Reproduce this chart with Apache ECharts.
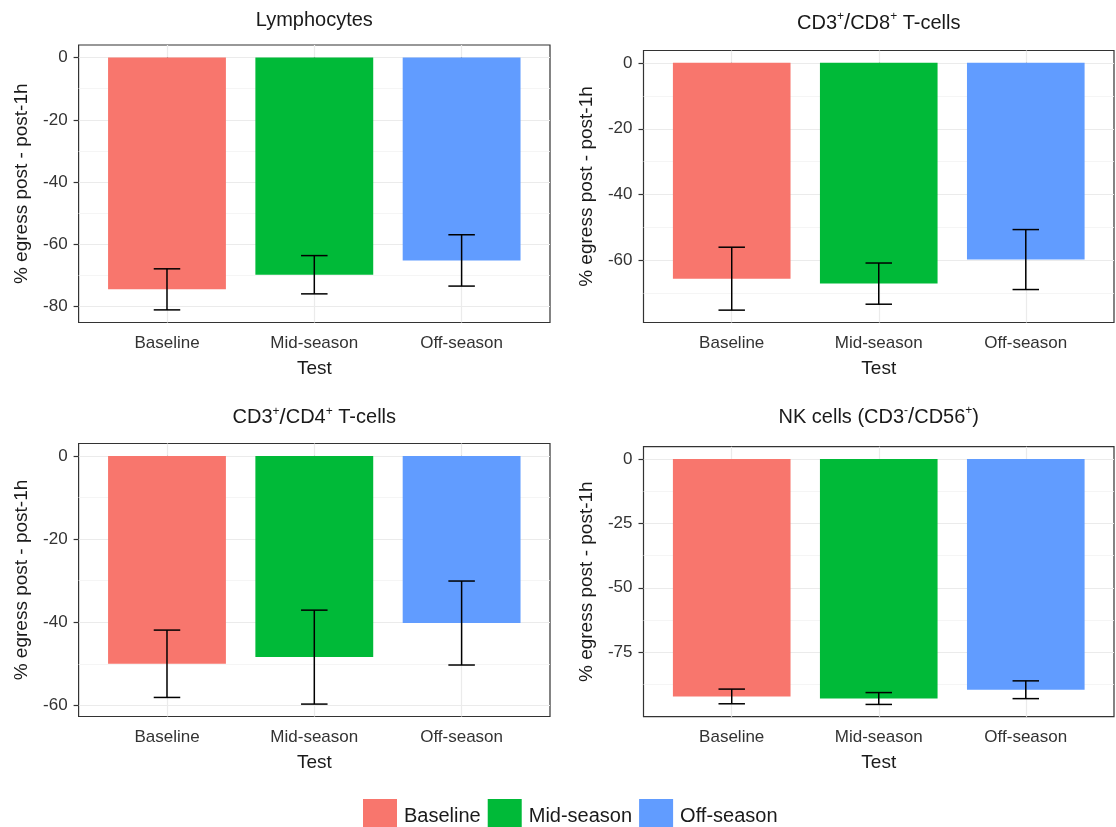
<!DOCTYPE html>
<html>
<head>
<meta charset="utf-8">
<script src="https://cdn.jsdelivr.net/npm/echarts@6/dist/echarts.min.js"></script>
<style>
html,body{margin:0;padding:0;background:#fff;}
#chart{width:1116px;height:827px;}
</style>
</head>
<body>
<div id="chart"></div>
<script>
// ---- data ----
const tests = ['Baseline', 'Mid-season', 'Off-season'];
const panelTitles = [
  'Lymphocytes',
  '{a|CD3}{s|+}{b|/}{a|CD8}{s|+}{a| T-cells}',
  '{a|CD3}{s|+}{b|/}{a|CD4}{s|+}{a| T-cells}',
  '{a|NK cells (CD3}{s|-}{b|/}{a|CD56}{s|+}{a|)}'
];
const lymphMean = [-74.5, -69.8, -65.2];
const lymphSE = [6.6, 6.15, 8.25];
const cd8Mean = [-65.5, -67.0, -59.7];
const cd8SE = [9.55, 6.25, 9.1];
const cd4Mean = [-50.0, -48.4, -40.2];
const cd4SE = [8.1, 11.3, 10.1];
const nkMean = [-92.2, -93.0, -89.6];
const nkSE = [2.85, 2.3, 3.45];

const lymphTicks = [0, -20, -40, -60, -80];
const lymphMinor = [-10, -30, -50, -70];
const cd8Ticks = [0, -20, -40, -60];
const cd8Minor = [-10, -30, -50, -70];
const cd4Ticks = [0, -20, -40, -60];
const cd4Minor = [-10, -30, -50];
const nkTicks = [0, -25, -50, -75];
const nkMinor = [-12.5, -37.5, -62.5, -87.5];

const categoryPos = [1, 2, 3];

// ---- styling / layout ----
const colors = ['#F8766D', '#00BA38', '#619CFF'];
const means = [lymphMean, cd8Mean, cd4Mean, nkMean];
const ses = [lymphSE, cd8SE, cd4SE, nkSE];
const majors = [lymphTicks, cd8Ticks, cd4Ticks, nkTicks];
const minors = [lymphMinor, cd8Minor, cd4Minor, nkMinor];

const gridBoxes = [
  {left: 78.6, top: 45, width: 471.4, height: 277.5},
  {left: 643.5, top: 50.5, width: 470.5, height: 272},
  {left: 78.6, top: 443.5, width: 471.4, height: 273},
  {left: 643.5, top: 446.7, width: 470.5, height: 270}
];
const titleTops = [8, 11, 405.5, 405];

const FONT = '"Liberation Sans", Arial, sans-serif';
const barHalf = 0.4, whiskHalf = 0.09;

function yRange(m, s) {
  let lo = 0, hi = 0;
  m.forEach((v, i) => { lo = Math.min(lo, v - s[i]); hi = Math.max(hi, v + s[i]); });
  const r = hi - lo;
  return [lo - 0.05 * r, hi + 0.05 * r];
}

const grid = [], xAxis = [], yAxis = [], title = [], series = [];
gridBoxes.forEach((g, p) => {
  grid.push(Object.assign({show: true, borderColor: '#333333', borderWidth: 1.2, backgroundColor: 'transparent'}, g));
  title.push({
    text: panelTitles[p],
    left: g.left + g.width / 2,
    top: titleTops[p],
    textAlign: 'center',
    padding: 0,
    textStyle: {
      fontFamily: FONT, fontSize: 20, fontWeight: 'normal', color: '#1a1a1a', lineHeight: 24,
      rich: {
        a: {fontFamily: FONT, fontSize: 20, color: '#1a1a1a', lineHeight: 24},
        b: {fontFamily: FONT, fontSize: 22, color: '#1a1a1a', lineHeight: 24},
        s: {fontFamily: FONT, fontSize: 12, color: '#1a1a1a', lineHeight: 12, verticalAlign: 'top'}
      }
    }
  });
  const [ymin, ymax] = yRange(means[p], ses[p]);
  xAxis.push({
    type: 'value', gridIndex: p, min: 0.4, max: 3.6,
    name: 'Test', nameLocation: 'middle', nameGap: 37,
    nameTextStyle: {fontFamily: FONT, fontSize: 19, color: '#1a1a1a'},
    axisLine: {show: false},
    axisTick: {show: true, length: 5, customValues: categoryPos, lineStyle: {color: '#333333', width: 1.2}},
    axisLabel: {customValues: categoryPos, margin: 12, fontFamily: FONT, fontSize: 17, color: '#333333',
      formatter: v => tests[Math.round(v) - 1]},
    splitLine: {show: true, lineStyle: {color: '#EBEBEB', width: 1.2}}
  });
  yAxis.push({
    type: 'value', gridIndex: p, min: ymin, max: ymax,
    name: '% egress post - post-1h', nameLocation: 'middle', nameGap: 47,
    nameTextStyle: {fontFamily: FONT, fontSize: 19, color: '#1a1a1a'},
    axisLine: {show: false},
    axisTick: {show: true, length: 5, customValues: majors[p], lineStyle: {color: '#333333', width: 1.2}},
    axisLabel: {customValues: majors[p], margin: 11, fontFamily: FONT, fontSize: 17, color: '#333333'},
    splitLine: {show: true, lineStyle: {color: '#EBEBEB', width: 1.2}}
  });
  yAxis.push({
    type: 'value', gridIndex: p, min: ymin, max: ymax,
    axisLine: {show: false},
    axisTick: {show: false, customValues: minors[p]},
    axisLabel: {show: false},
    splitLine: {show: true, lineStyle: {color: '#F2F2F2', width: 0.8}}
  });
  tests.forEach((t, i) => {
    series.push({
      type: 'custom', name: t, xAxisIndex: p, yAxisIndex: 2 * p,
      itemStyle: {color: colors[i]},
      data: [[categoryPos[i], means[p][i], ses[p][i]]],
      renderItem: function (params, api) {
        const x = api.value(0), m = api.value(1), s = api.value(2);
        const a = api.coord([x - barHalf, 0]);
        const b = api.coord([x + barHalf, m]);
        const top = api.coord([x, m + s]);
        const bot = api.coord([x, m - s]);
        const wl = api.coord([x - whiskHalf, m])[0];
        const wr = api.coord([x + whiskHalf, m])[0];
        const ls = {stroke: '#000', lineWidth: 1.5};
        return {
          type: 'group',
          children: [
            {type: 'rect', shape: {x: a[0], y: Math.min(a[1], b[1]), width: b[0] - a[0], height: Math.abs(b[1] - a[1])},
             style: {fill: api.visual('color')}},
            {type: 'line', shape: {x1: top[0], y1: top[1], x2: bot[0], y2: bot[1]}, style: ls},
            {type: 'line', shape: {x1: wl, y1: top[1], x2: wr, y2: top[1]}, style: ls},
            {type: 'line', shape: {x1: wl, y1: bot[1], x2: wr, y2: bot[1]}, style: ls}
          ]
        };
      }
    });
  });
});

const chart = echarts.init(document.getElementById('chart'), null, {renderer: 'canvas'});
chart.setOption({
  backgroundColor: '#ffffff',
  animation: false,
  title: title,
  grid: grid,
  xAxis: xAxis,
  yAxis: yAxis,
  legend: {
    data: tests, left: 358, top: 794, icon: 'rect', itemWidth: 34, itemHeight: 34, itemGap: 7,
    textStyle: {fontFamily: FONT, fontSize: 20, color: '#1a1a1a', padding: [0, 0, 0, 2]}
  },
  series: series
});
</script>
</body>
</html>
